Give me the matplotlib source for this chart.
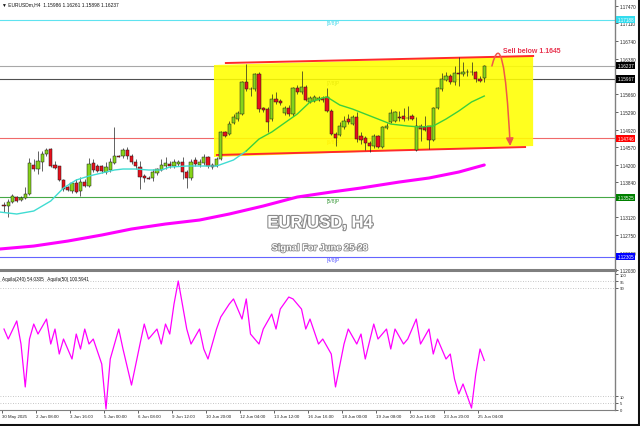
import matplotlib
matplotlib.use('Agg')
import matplotlib.pyplot as plt
import matplotlib.patheffects as pe
from matplotlib.patches import Polygon, FancyArrowPatch
from matplotlib.path import Path
from matplotlib.lines import Line2D
from matplotlib.transforms import blended_transform_factory
import numpy as np

plt.rcParams['font.family'] = ['Liberation Sans', 'DejaVu Sans']

# EURUSD H4 candles, 30 May - 25 Jun 2025
opens = [1.13380, 1.13349, 1.13431, 1.13534, 1.13473, 1.13514, 1.13596, 1.14194, 1.14111, 1.14255,
         1.14420, 1.14523, 1.14194, 1.14173, 1.13885, 1.13740, 1.13658, 1.13823, 1.13658, 1.13843,
         1.13761, 1.14235, 1.14173, 1.14173, 1.14049, 1.14091, 1.14235, 1.14379, 1.14379, 1.14503,
         1.14379, 1.14255, 1.14152, 1.13967, 1.13936, 1.13926, 1.14029, 1.14091, 1.14173, 1.14214,
         1.14173, 1.14214, 1.14255, 1.14049, 1.13926, 1.14297, 1.14194, 1.14235, 1.14358, 1.14194,
         1.14173, 1.14317, 1.14873, 1.14832, 1.15059, 1.15141, 1.15244, 1.15904, 1.15760, 1.15760,
         1.16069, 1.15368, 1.15347, 1.15141, 1.15553, 1.15512, 1.15265, 1.15368, 1.15244, 1.15780,
         1.15698, 1.15801, 1.15492, 1.15512, 1.15533, 1.15574, 1.15595, 1.15306, 1.14832, 1.14812,
         1.14976, 1.15141, 1.15038, 1.15182, 1.14791, 1.14750, 1.14647, 1.14585, 1.14791, 1.14564,
         1.14956, 1.15079, 1.15100, 1.15182, 1.15203, 1.15162, 1.15203, 1.14503, 1.14997, 1.14976,
         1.14997, 1.14709, 1.15368, 1.15760, 1.15945, 1.16027, 1.15904, 1.16089, 1.16069, 1.16110,
         1.16110, 1.16110, 1.15966, 1.15986]
highs = [1.13431, 1.13493, 1.13596, 1.13555, 1.13555, 1.13740, 1.14338, 1.14317, 1.14482, 1.14482,
         1.14544, 1.14544, 1.14276, 1.14173, 1.13905, 1.13761, 1.13843, 1.13905, 1.13946, 1.13905,
         1.14338, 1.14317, 1.14214, 1.14194, 1.14255, 1.14338, 1.14976, 1.14400, 1.14544, 1.14564,
         1.14420, 1.14317, 1.14276, 1.14008, 1.13967, 1.14111, 1.14132, 1.14317, 1.14358, 1.14276,
         1.14317, 1.14297, 1.14358, 1.14091, 1.14317, 1.14358, 1.14317, 1.14420, 1.14379, 1.14235,
         1.14358, 1.14894, 1.14894, 1.15100, 1.15244, 1.15306, 1.15924, 1.16275, 1.15801, 1.16089,
         1.16110, 1.15389, 1.15389, 1.15656, 1.15698, 1.15553, 1.15409, 1.15430, 1.15801, 1.15842,
         1.16130, 1.15842, 1.15615, 1.15636, 1.15615, 1.15615, 1.15780, 1.15347, 1.14873, 1.15079,
         1.15203, 1.15244, 1.15224, 1.15285, 1.14873, 1.14791, 1.14688, 1.14832, 1.14812, 1.14997,
         1.15059, 1.15347, 1.15306, 1.15306, 1.15368, 1.15409, 1.15244, 1.15182, 1.15038, 1.15203,
         1.14997, 1.15389, 1.15801, 1.16089, 1.16110, 1.16069, 1.16233, 1.16419, 1.16316, 1.16172,
         1.16316, 1.16130, 1.16027, 1.16261]
lows = [1.13225, 1.13122, 1.13411, 1.13431, 1.13452, 1.13493, 1.13576, 1.14070, 1.14008, 1.14070,
        1.14379, 1.14152, 1.14111, 1.13864, 1.13658, 1.13658, 1.13617, 1.13617, 1.13555, 1.13740,
        1.13740, 1.14049, 1.14049, 1.14029, 1.14008, 1.14049, 1.14214, 1.14358, 1.14338, 1.14317,
        1.14214, 1.14111, 1.13699, 1.13843, 1.13905, 1.13864, 1.13988, 1.14070, 1.14111, 1.14132,
        1.14132, 1.14173, 1.13905, 1.13720, 1.13885, 1.14173, 1.14152, 1.14194, 1.14132, 1.14111,
        1.14152, 1.14297, 1.14770, 1.14812, 1.15038, 1.15100, 1.15224, 1.15718, 1.15615, 1.15718,
        1.15285, 1.15285, 1.14873, 1.15100, 1.15450, 1.15430, 1.15224, 1.15203, 1.15203, 1.15656,
        1.15656, 1.15512, 1.15471, 1.15492, 1.15512, 1.15492, 1.15285, 1.14812, 1.14585, 1.14791,
        1.14935, 1.15038, 1.15018, 1.14667, 1.14626, 1.14503, 1.14461, 1.14544, 1.14544, 1.14544,
        1.14935, 1.15059, 1.15079, 1.15100, 1.15100, 1.15121, 1.15121, 1.14482, 1.14688, 1.14894,
        1.14523, 1.14688, 1.15347, 1.15718, 1.15924, 1.15863, 1.15842, 1.15821, 1.16027, 1.16027,
        1.16048, 1.15904, 1.15904, 1.15898]
closes = [1.13359, 1.13431, 1.13555, 1.13452, 1.13514, 1.13596, 1.14235, 1.14111, 1.14276, 1.14420,
          1.14503, 1.14173, 1.14132, 1.13885, 1.13699, 1.13679, 1.13823, 1.13637, 1.13843, 1.13761,
          1.14214, 1.14091, 1.14070, 1.14070, 1.14152, 1.14255, 1.14379, 1.14369, 1.14503, 1.14379,
          1.14255, 1.14173, 1.13946, 1.13926, 1.13915, 1.14049, 1.14111, 1.14194, 1.14235, 1.14173,
          1.14255, 1.14255, 1.14049, 1.13926, 1.14255, 1.14214, 1.14255, 1.14358, 1.14173, 1.14152,
          1.14317, 1.14873, 1.14791, 1.15038, 1.15182, 1.15265, 1.15904, 1.15760, 1.15750, 1.16069,
          1.15347, 1.15327, 1.15079, 1.15553, 1.15492, 1.15471, 1.15368, 1.15244, 1.15780, 1.15698,
          1.15801, 1.15533, 1.15574, 1.15595, 1.15574, 1.15533, 1.15306, 1.14832, 1.14750, 1.14997,
          1.15100, 1.15079, 1.15182, 1.14729, 1.14709, 1.14647, 1.14585, 1.14791, 1.14564, 1.14976,
          1.14997, 1.15265, 1.15285, 1.15172, 1.15141, 1.15152, 1.15141, 1.14997, 1.14935, 1.14915,
          1.14709, 1.15368, 1.15780, 1.15966, 1.16027, 1.15904, 1.16089, 1.16069, 1.16110, 1.16100,
          1.16100, 1.15966, 1.15924, 1.16237]

# fast moving average (cyan, then green)
ma_idx = [-1, 3, 7, 11, 14, 17, 20, 23, 26, 28, 31, 34, 37, 39, 43, 47, 50, 54, 57, 60, 63, 66, 69,
          72, 75, 76, 79, 82, 85, 88, 91, 95, 98, 101, 104, 107, 110, 113]
ma_val = [1.13225, 1.13184, 1.13246, 1.13452, 1.13720, 1.13885, 1.13967, 1.14029, 1.14091, 1.14111,
          1.14111, 1.14091, 1.14091, 1.14152, 1.14173, 1.14173, 1.14173, 1.14297, 1.14482, 1.14729,
          1.14873, 1.15059, 1.15244, 1.15492, 1.15574, 1.15595, 1.15430, 1.15347, 1.15244, 1.15141,
          1.15038, 1.14997, 1.14976, 1.14997, 1.15141, 1.15306, 1.15492, 1.15615]
# slow moving average (magenta)
ma2_idx = [-1, 7, 15, 23, 30, 38, 46, 53, 61, 69, 77, 84, 93, 100, 107, 113]
ma2_val = [1.12463, 1.12524, 1.12627, 1.12751, 1.12875, 1.12978, 1.13060, 1.13184, 1.13349, 1.13534,
           1.13637, 1.13720, 1.13843, 1.13926, 1.14049, 1.14194]

# Murrey math levels
mm_levels = [1.17188, 1.15967, 1.14746, 1.13525, 1.12305]
mm_names = ['[8/8]P', '[7/8]P', '[6/8]P', '[5/8]P', '[4/8]P']
bid = 1.16237

# price scale labels (the ones hidden under level boxes are left out)
price_ticks = [1.17470, 1.17110, 1.16740, 1.16380, 1.15660, 1.15290, 1.14920, 1.14570,
               1.14200, 1.13840, 1.13120, 1.12750, 1.12390, 1.12030]

# oscillator (Aquila 240)
osc_idx = [0, 1, 3, 4, 5, 6, 7, 8, 10, 11, 12, 13, 14, 16, 17, 18, 19, 20, 21, 23, 24, 25, 27, 28,
           30, 32, 33, 34, 36, 37, 38, 39, 40, 41, 43, 44, 46, 47, 48, 50, 51, 53, 54, 56, 57, 58,
           60, 61, 63, 64, 65, 67, 68, 70, 71, 72, 74, 75, 77, 78, 80, 81, 83, 84, 85, 87, 88, 90,
           91, 92, 94, 95, 97, 98, 100, 101, 102, 104, 105, 106, 107, 108, 110, 111, 112, 113]
osc_val = [59.6, 52.2, 65.6, 48.5, 16.7, 52.2, 63.3, 55.9, 67.0, 48.5, 59.6, 41.1, 52.2, 37.4, 55.9,
           44.8, 59.6, 48.5, 52.2, 33.7, 0.4, 37.4, 59.6, 44.8, 18.1, 48.5, 63.3, 52.2, 59.6, 48.5,
           63.3, 55.9, 78.1, 95.2, 59.6, 48.5, 59.6, 44.8, 37.4, 59.6, 68.5, 78.1, 81.9, 67.0, 81.9,
           55.9, 48.5, 59.6, 70.7, 59.6, 74.4, 83.3, 81.9, 74.4, 59.6, 67.0, 48.5, 52.2, 41.1, 16.7,
           48.5, 59.6, 48.5, 55.9, 37.4, 63.3, 52.2, 59.6, 44.8, 59.6, 48.5, 52.2, 67.0, 48.5, 59.6,
           41.1, 52.2, 37.4, 41.1, 22.6, 11.5, 18.9, 1.1, 26.3, 44.8, 36.3]
osc_levels = [95, 90, 10, 5]

time_labels = ['30 May 2025', '2 Jun 08:00', '3 Jun 16:00', '5 Jun 00:00', '6 Jun 08:00',
               '9 Jun 12:00', '10 Jun 20:00', '12 Jun 04:00', '13 Jun 12:00', '16 Jun 16:00',
               '18 Jun 00:00', '19 Jun 08:00', '20 Jun 16:00', '23 Jun 20:00', '25 Jun 04:00']

W, H = 640, 427
fig = plt.figure(figsize=(W / 100, H / 100), dpi=100)
fig.patch.set_facecolor('white')


def px_axes(x0, y0, x1, y1):
    return fig.add_axes([x0 / W, 1 - y1 / H, (x1 - x0) / W, (y1 - y0) / H])


ax = px_axes(0, 0, 615, 272)
ax2 = px_axes(0, 273, 615, 411)
xlim = (-0.94, 143.76)
for a in (ax, ax2):
    a.set_xlim(*xlim)
    a.set_facecolor('white')
    for s in ('top', 'left', 'bottom'):
        a.spines[s].set_visible(False)
    a.spines['right'].set_color('#808080')
    a.spines['right'].set_linewidth(1)
    a.yaxis.tick_right()
ax.set_ylim(1.12010, 1.17614)
ax2.set_ylim(-0.37, 101.85)

# levels
mm_colors = ['#5fe3f0', '#505050', '#f06a6a', '#46a846', '#6464ff']
box_colors = ['#33dcee', '#000000', '#ff0000', '#008000', '#0000ff']
txt_colors = ['#40d8ea', '#505050', '#ff7a1a', '#3a9a3a', '#5a5aff']
for lv, c in zip(mm_levels, mm_colors):
    ax.axhline(lv, color=c, lw=0.8, zorder=1)
ax.axhline(bid, color='#a8a8a8', lw=0.8, zorder=1)
for lv, name, c in zip(mm_levels, mm_names, txt_colors):
    ax.text(76, lv - 0.00012, name, color=c, fontsize=3.6, va='top', ha='left', zorder=1.5)

# yellow channel box
ax.add_patch(Polygon([(49.4, 1.16254), (124.5, 1.16440), (124.5, 1.14585), (49.4, 1.14358)],
                     closed=True, facecolor='#ffff00', edgecolor='none', alpha=0.88, zorder=2))
ax.plot([52.2, 124.5], [1.16295, 1.16440], color='#ff2a2a', lw=1.4, zorder=3)
ax.plot([50.1, 122.6], [1.14400, 1.14564], color='#ff2a2a', lw=1.4, zorder=3)

# moving averages
ax.plot(ma2_idx, ma2_val, color='#ff00ff', lw=2.2, zorder=6, solid_capstyle='round')
cut = ma_idx.index(57)
ax.plot(ma_idx[:cut + 1], ma_val[:cut + 1], color='#40dcd2', lw=1.0, zorder=6)
ax.plot(ma_idx[cut:], ma_val[cut:], color='#3ccf3c', lw=1.0, zorder=6)

# candles
o = np.array(opens)
c = np.array(closes)
bars = np.arange(len(o))
bottom = np.minimum(o, c)
height = np.maximum(np.abs(c - o), 0.00004)
cols = np.where(c >= o, '#86d419', '#e8101c')
ax.vlines(bars, lows, highs, color='#222222', lw=0.5, zorder=4)
ax.bar(bars, height, bottom=bottom, width=0.72, color=cols, edgecolor='#1a1a1a',
       linewidth=0.35, zorder=5)

# price axis
ax.set_xticks([])
ax.set_yticks(price_ticks)
ax.set_yticklabels([f'{t:.5f}' for t in price_ticks])
ax.tick_params(axis='y', labelsize=3.3, length=2, width=0.5, pad=1.2, colors='#222222')

tr = blended_transform_factory(ax.transAxes, ax.transData)
for lv, bc in zip(mm_levels + [bid], box_colors + ['#000000']):
    ax.text(1.004, lv, f'{lv:.5f}', transform=tr, fontsize=3.3, color='white', va='center',
            ha='left', zorder=10, clip_on=False,
            bbox=dict(boxstyle='square,pad=0.25', fc=bc, ec='none'))

# sell arrow + text
arrow_path = Path([(114.8, 1.16234), (117.6, 1.17202), (119.1, 1.14585)],
                  [Path.MOVETO, Path.CURVE3, Path.CURVE3])
ax.add_patch(FancyArrowPatch(path=arrow_path, arrowstyle='-|>,head_length=0.45,head_width=0.22',
                             mutation_scale=10, color='#f0564a', lw=1.1, zorder=7))
ax.text(117.4, 1.16543, 'Sell below 1.1645', color='#e8334f', fontsize=5, fontweight='bold',
        va='center', ha='left', zorder=8)

# oscillator panel
for lv in osc_levels:
    ax2.axhline(lv, color='#b4b4b4', lw=0.6, ls=(0, (1, 2)), zorder=1)
ax2.plot(osc_idx, osc_val, color='#ff00ff', lw=0.9, zorder=3)
ax2.set_yticks([100, 95, 90, 10, 5, 0])
ax2.set_yticklabels(['100', '95', '90', '10', '5', '0'])
ax2.tick_params(axis='y', labelsize=3.0, length=2, width=0.5, pad=1.2, colors='#222222')
ax2.spines['bottom'].set_visible(True)
ax2.spines['bottom'].set_color('#808080')
ax2.set_xticks([8 * i - 0.5 for i in range(len(time_labels))])
ax2.set_xticklabels(time_labels)
ax2.tick_params(axis='x', labelsize=3.2, length=2, width=0.5, pad=1.0, colors='#222222')
for lbl in ax2.get_xticklabels():
    lbl.set_ha('left')

# texts
fig.text(2 / W, 1 - 4.5 / H, '\u25bc EURUSDm,H4  1.15986 1.16261 1.15898 1.16237', fontsize=3.5,
         va='center', ha='left', color='#111111')
fig.text(2 / W, 1 - 280 / H, 'Aquila(240) 54.0305   Aquila(50) 100.5941', fontsize=3.3,
         va='center', ha='left', color='#111111')
stroke = [pe.withStroke(linewidth=1.6, foreground='#8a8a8a')]
fig.text(320 / W, 1 - 224 / H, 'EUR/USD, H4', fontsize=12, fontweight='bold', color='white',
         ha='center', va='center', path_effects=stroke)
fig.text(320 / W, 1 - 249 / H, 'Signal For June 25-28', fontsize=6.7, fontweight='bold',
         color='white', ha='center', va='center',
         path_effects=[pe.withStroke(linewidth=1.2, foreground='#8a8a8a')])

# panel separator and frame
fig.add_artist(Line2D([0, 615 / W], [1 - 270.5 / H] * 2, color='#7f7f7f', lw=2.2))
fig.add_artist(Line2D([0, 1], [1.5 / H] * 2, color='#111111', lw=2.2))
fig.add_artist(Line2D([1 - 1.5 / W] * 2, [0, 1], color='#111111', lw=2.2))

fig.savefig('out.png', dpi=100, facecolor='white')
